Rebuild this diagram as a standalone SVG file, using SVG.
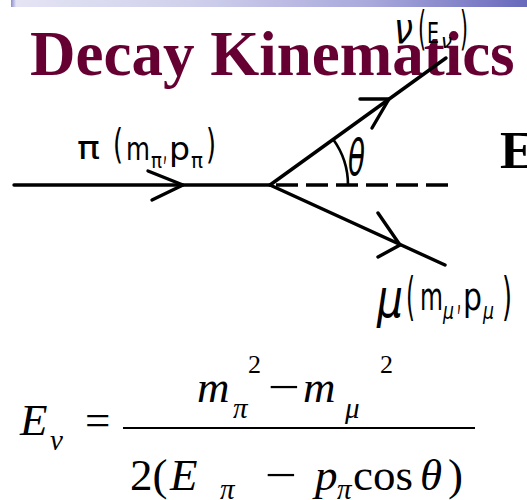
<svg xmlns="http://www.w3.org/2000/svg" width="527" height="500" viewBox="0 0 527 500">
<defs>
<linearGradient id="barGrad" x1="0" y1="0" x2="1" y2="0">
<stop offset="0" stop-color="#8c8cd0"/>
<stop offset="0.01" stop-color="#e4e4f4"/>
<stop offset="0.35" stop-color="#d0d0ec"/>
<stop offset="0.7" stop-color="#a8a8dc"/>
<stop offset="1" stop-color="#6868bc"/>
</linearGradient>
<style>
.title{font-family:"Liberation Serif","Times New Roman",serif;font-weight:bold;fill:#660033}
.hw{font-family:"DejaVu Sans","Liberation Sans",sans-serif;fill:#000}
.hwi{font-family:"DejaVu Sans","Liberation Sans",sans-serif;font-style:italic;fill:#000}
.math{font-family:"Liberation Serif","Times New Roman",serif;fill:#000}
.mi{font-family:"Liberation Serif","Times New Roman",serif;font-style:italic;fill:#000}
.line{stroke:#000;stroke-width:3.4;fill:none;stroke-linecap:round;stroke-linejoin:round}
.dash{stroke:#000;stroke-width:3.4;fill:none;stroke-dasharray:22 8}
.arc{stroke:#000;stroke-width:2.6;fill:none}
</style>
</defs>
<rect width="527" height="500" fill="#fff"/>
<rect id="topbar" x="11" y="0" width="516" height="7" fill="url(#barGrad)"/>
<g id="title"><text class="title" x="30" y="75" font-size="63">Decay Kinematics</text></g>
<g id="cutE"><text class="title" x="500" y="168" font-size="53" style="fill:#000">E</text></g>

<g id="connectors">
<line class="line" x1="14" y1="185" x2="270" y2="185"/>
<polyline class="line" points="148,171 183,185 152,200"/>
<line class="line" x1="270" y1="185" x2="446" y2="58"/>
<polyline class="line" points="360,99 389,99 372,128"/>
<line class="line" x1="270" y1="185" x2="445" y2="265"/>
<polyline class="line" points="378,213 400,245 378,257"/>
<line class="dash" x1="276" y1="185" x2="448" y2="185"/>
<path class="arc" d="M333.3,139.5 A78,78 0 0 1 348,185"/>
</g>

<g id="theta"><text class="hwi" x="348" y="175" font-size="50" textLength="17" lengthAdjust="spacingAndGlyphs">θ</text></g>

<g id="pion-label">
<text class="hw" x="77" y="159" font-size="32" textLength="23" lengthAdjust="spacingAndGlyphs">π</text>
<text class="hw" x="113" y="158" font-size="40" textLength="10" lengthAdjust="spacingAndGlyphs">(</text>
<text class="hw" x="126" y="160" font-size="32" textLength="24" lengthAdjust="spacingAndGlyphs">m</text>
<text class="hw" x="151" y="168" font-size="22" textLength="11" lengthAdjust="spacingAndGlyphs">π</text>
<text class="hw" x="163" y="160" font-size="32" textLength="4" lengthAdjust="spacingAndGlyphs">,</text>
<text class="hw" x="169" y="160" font-size="32" textLength="21" lengthAdjust="spacingAndGlyphs">p</text>
<text class="hw" x="191" y="168" font-size="22" textLength="12" lengthAdjust="spacingAndGlyphs">π</text>
<text class="hw" x="206" y="158" font-size="40" textLength="10" lengthAdjust="spacingAndGlyphs">)</text>
</g>

<g id="neutrino-label">
<text class="hwi" x="394" y="43" font-size="42" textLength="19" lengthAdjust="spacingAndGlyphs">ν</text>
<text class="hw" x="418" y="44" font-size="47" textLength="8" lengthAdjust="spacingAndGlyphs">(</text>
<text class="hw" x="427" y="43" font-size="29" textLength="12" lengthAdjust="spacingAndGlyphs">E</text>
<text class="hwi" x="441" y="48" font-size="19" textLength="11" lengthAdjust="spacingAndGlyphs">ν</text>
<text class="hw" x="460" y="44" font-size="47" textLength="8" lengthAdjust="spacingAndGlyphs">)</text>
</g>

<g id="muon-label">
<text class="hwi" x="377" y="317" font-size="54" textLength="26" lengthAdjust="spacingAndGlyphs">μ</text>
<text class="hw" x="406" y="314" font-size="51" textLength="9" lengthAdjust="spacingAndGlyphs">(</text>
<text class="hw" x="420" y="310" font-size="37" textLength="23" lengthAdjust="spacingAndGlyphs">m</text>
<text class="hwi" x="443" y="319" font-size="23" textLength="11" lengthAdjust="spacingAndGlyphs">μ</text>
<text class="hw" x="457" y="310" font-size="37" textLength="4" lengthAdjust="spacingAndGlyphs">,</text>
<text class="hw" x="463" y="310" font-size="37" textLength="19" lengthAdjust="spacingAndGlyphs">p</text>
<text class="hwi" x="483" y="319" font-size="23" textLength="11" lengthAdjust="spacingAndGlyphs">μ</text>
<text class="hw" x="502" y="314" font-size="51" textLength="10" lengthAdjust="spacingAndGlyphs">)</text>
</g>

<g id="formula">
<text class="mi" x="20" y="435" font-size="45">E</text>
<text class="mi" x="50" y="450" font-size="29">ν</text>
<text class="math" x="85" y="435" font-size="45">=</text>
<text class="mi" x="197" y="402" font-size="45">m</text>
<text class="mi" x="233" y="418" font-size="29">π</text>
<text class="math" x="248" y="373" font-size="26">2</text>
<text class="math" x="268" y="402" font-size="45" textLength="32" lengthAdjust="spacingAndGlyphs">−</text>
<text class="mi" x="303" y="402" font-size="45">m</text>
<text class="mi" x="345" y="418" font-size="29">μ</text>
<text class="math" x="380" y="373" font-size="26">2</text>
<line x1="123" y1="428" x2="475" y2="428" stroke="#000" stroke-width="2"/>
<text class="math" x="130" y="490" font-size="45">2(</text>
<text class="mi" x="170" y="490" font-size="45">E</text>
<text class="mi" x="220" y="499" font-size="29">π</text>
<text class="math" x="265" y="490" font-size="45" textLength="32" lengthAdjust="spacingAndGlyphs">−</text>
<text class="mi" x="315" y="490" font-size="45">p</text>
<text class="mi" x="337" y="499" font-size="29">π</text>
<text class="math" x="353" y="490" font-size="45">cos</text>
<text class="mi" x="420" y="490" font-size="45">θ</text>
<text class="math" x="448" y="490" font-size="45">)</text>
</g>
</svg>
